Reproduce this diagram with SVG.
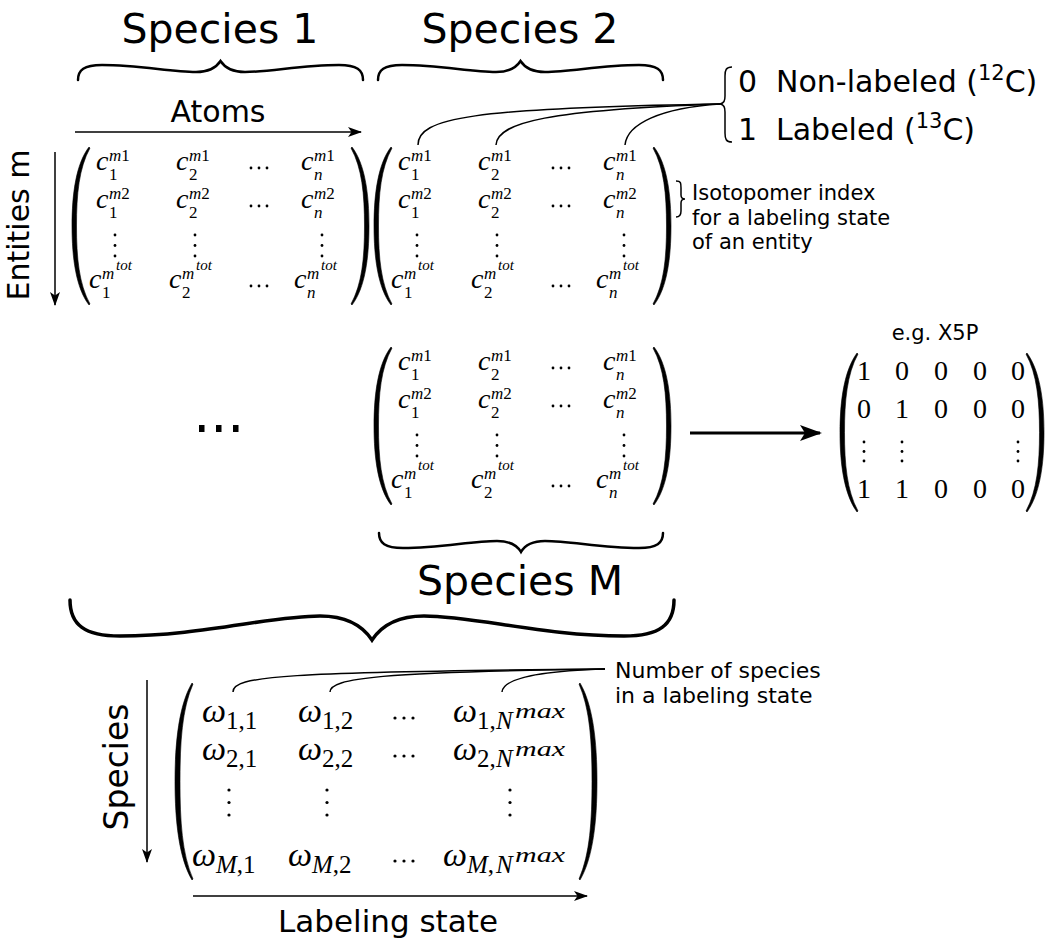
<svg xmlns="http://www.w3.org/2000/svg" width="1053" height="941" viewBox="0 0 1053 941">
<style>
.t{font-family:"DejaVu Sans","Liberation Sans",sans-serif;fill:#000}
.mx{font-family:"Liberation Serif","Times New Roman",serif;font-size:28px;fill:#000}
.ow{font-family:"Liberation Serif","Times New Roman",serif;font-size:34px;font-style:italic;fill:#000}
.ob{font-family:"Liberation Serif","Times New Roman",serif;font-size:25px;fill:#000}
.i{font-style:italic}
.s{font-size:17px}
.ss{font-size:15px}
.oss{font-size:20px}
.ln{fill:none;stroke:#000;stroke-width:1.5}
.br{fill:none;stroke:#000;stroke-width:2.5;stroke-linecap:round}
.pa{fill:#000;stroke:#000;stroke-width:0.6}
.dt{fill:#000}
</style>
<defs>
<marker id="ah" markerUnits="userSpaceOnUse" markerWidth="14" markerHeight="10" refX="13" refY="5" orient="auto">
<path d="M0,0 L14,5 L0,10 L3.5,5 Z" fill="#000"/>
</marker>
<marker id="ahb" markerUnits="userSpaceOnUse" markerWidth="22" markerHeight="16" refX="20" refY="8" orient="auto">
<path d="M0,0 L22,8 L0,16 L5,8 Z" fill="#000"/>
</marker>
</defs>

<!-- titles and braces -->
<g id="species1">
<text class="t" x="220" y="43" font-size="41" text-anchor="middle">Species 1</text>
<path class="br" d="M78,80 C78,70 84,65 102,65 C140,65 170,72 196,72 C209,72 216,68 220.5,61 C225,68 232,72 245,72 C271,72 301,65 339,65 C357,65 363,70 363,80"/>
</g>
<g id="species2">
<text class="t" x="520" y="43" font-size="41" text-anchor="middle">Species 2</text>
<path class="br" d="M378,80 C378,70 384,65 402,65 C440,65 470,72 496,72 C509,72 516,68 520.5,61 C525,68 532,72 545,72 C571,72 601,65 639,65 C657,65 663,70 663,80"/>
</g>
<g id="atoms">
<text class="t" x="218" y="122" font-size="30" text-anchor="middle">Atoms</text>
</g>
<g id="entities">
<text class="t" transform="translate(29,225) rotate(-90)" font-size="30" text-anchor="middle">Entities m</text>
</g>

<!-- legend -->
<g id="legend">
<path class="ln" d="M732,67 C726,67 725,70 725,76 L725,96 C725,101 724,103 720,104 C724,105 725,107 725,112 L725,133 C725,139 726,142 732,142"/>
<text class="t" x="738" y="92" font-size="30">0</text>
<text class="t" x="776" y="92" font-size="30">Non-labeled (<tspan font-size="21" dy="-12">12</tspan><tspan dy="12">C)</tspan></text>
<text class="t" x="738" y="140" font-size="30">1</text>
<text class="t" x="776" y="140" font-size="30">Labeled (<tspan font-size="21" dy="-12">13</tspan><tspan dy="12">C)</tspan></text>
</g>

<!-- c-matrix 1 -->
<g id="matrix1">
<path class="pa" d="M89,147 C76,164 72,194 72,226 C72,258 76,288 89,305 L90,304 C79,284 76.5,258 76.5,226 C76.5,194 79,168 90,148 Z"/>
<path class="pa" d="M352,147 C365,164 369,194 369,226 C369,258 365,288 352,305 L351,304 C362,284 364.5,258 364.5,226 C364.5,194 362,168 351,148 Z"/>
<text class="mx"><tspan class="i" x="96" y="170">c</tspan><tspan class="s i" x="109" y="161">m</tspan><tspan class="s">1</tspan><tspan class="s" x="109" y="180">1</tspan></text>
<text class="mx"><tspan class="i" x="176" y="170">c</tspan><tspan class="s i" x="189" y="161">m</tspan><tspan class="s">1</tspan><tspan class="s" x="189" y="180">2</tspan></text>
<text class="mx"><tspan class="i" x="301" y="170">c</tspan><tspan class="s i" x="314" y="161">m</tspan><tspan class="s">1</tspan><tspan class="s i" x="314" y="180">n</tspan></text>
<text class="mx"><tspan class="i" x="96" y="208">c</tspan><tspan class="s i" x="109" y="199">m</tspan><tspan class="s">2</tspan><tspan class="s" x="109" y="218">1</tspan></text>
<text class="mx"><tspan class="i" x="176" y="208">c</tspan><tspan class="s i" x="189" y="199">m</tspan><tspan class="s">2</tspan><tspan class="s" x="189" y="218">2</tspan></text>
<text class="mx"><tspan class="i" x="301" y="208">c</tspan><tspan class="s i" x="314" y="199">m</tspan><tspan class="s">2</tspan><tspan class="s i" x="314" y="218">n</tspan></text>
<text class="mx"><tspan class="i" x="89" y="288">c</tspan><tspan class="s i" x="102" y="279">m</tspan><tspan class="ss i" x="116" y="270">tot</tspan><tspan class="s" x="102" y="298">1</tspan></text>
<text class="mx"><tspan class="i" x="169" y="288">c</tspan><tspan class="s i" x="182" y="279">m</tspan><tspan class="ss i" x="196" y="270">tot</tspan><tspan class="s" x="182" y="298">2</tspan></text>
<text class="mx"><tspan class="i" x="294" y="288">c</tspan><tspan class="s i" x="307" y="279">m</tspan><tspan class="ss i" x="321" y="270">tot</tspan><tspan class="s i" x="307" y="298">n</tspan></text>
<g class="dt">
<circle cx="251" cy="168" r="1.4"/><circle cx="259" cy="168" r="1.4"/><circle cx="267" cy="168" r="1.4"/>
<circle cx="251" cy="206" r="1.4"/><circle cx="259" cy="206" r="1.4"/><circle cx="267" cy="206" r="1.4"/>
<circle cx="251" cy="286" r="1.4"/><circle cx="259" cy="286" r="1.4"/><circle cx="267" cy="286" r="1.4"/>
<circle cx="115" cy="235" r="1.4"/><circle cx="115" cy="245.5" r="1.4"/><circle cx="115" cy="256" r="1.4"/>
<circle cx="195" cy="235" r="1.4"/><circle cx="195" cy="245.5" r="1.4"/><circle cx="195" cy="256" r="1.4"/>
<circle cx="322" cy="235" r="1.4"/><circle cx="322" cy="245.5" r="1.4"/><circle cx="322" cy="256" r="1.4"/>
</g>
</g>

<!-- c-matrix 2 -->
<g id="matrix2" transform="translate(302,0)">
<path class="pa" d="M89,147 C76,164 72,194 72,226 C72,258 76,288 89,305 L90,304 C79,284 76.5,258 76.5,226 C76.5,194 79,168 90,148 Z"/>
<path class="pa" d="M352,147 C365,164 369,194 369,226 C369,258 365,288 352,305 L351,304 C362,284 364.5,258 364.5,226 C364.5,194 362,168 351,148 Z"/>
<text class="mx"><tspan class="i" x="96" y="170">c</tspan><tspan class="s i" x="109" y="161">m</tspan><tspan class="s">1</tspan><tspan class="s" x="109" y="180">1</tspan></text>
<text class="mx"><tspan class="i" x="176" y="170">c</tspan><tspan class="s i" x="189" y="161">m</tspan><tspan class="s">1</tspan><tspan class="s" x="189" y="180">2</tspan></text>
<text class="mx"><tspan class="i" x="301" y="170">c</tspan><tspan class="s i" x="314" y="161">m</tspan><tspan class="s">1</tspan><tspan class="s i" x="314" y="180">n</tspan></text>
<text class="mx"><tspan class="i" x="96" y="208">c</tspan><tspan class="s i" x="109" y="199">m</tspan><tspan class="s">2</tspan><tspan class="s" x="109" y="218">1</tspan></text>
<text class="mx"><tspan class="i" x="176" y="208">c</tspan><tspan class="s i" x="189" y="199">m</tspan><tspan class="s">2</tspan><tspan class="s" x="189" y="218">2</tspan></text>
<text class="mx"><tspan class="i" x="301" y="208">c</tspan><tspan class="s i" x="314" y="199">m</tspan><tspan class="s">2</tspan><tspan class="s i" x="314" y="218">n</tspan></text>
<text class="mx"><tspan class="i" x="89" y="288">c</tspan><tspan class="s i" x="102" y="279">m</tspan><tspan class="ss i" x="116" y="270">tot</tspan><tspan class="s" x="102" y="298">1</tspan></text>
<text class="mx"><tspan class="i" x="169" y="288">c</tspan><tspan class="s i" x="182" y="279">m</tspan><tspan class="ss i" x="196" y="270">tot</tspan><tspan class="s" x="182" y="298">2</tspan></text>
<text class="mx"><tspan class="i" x="294" y="288">c</tspan><tspan class="s i" x="307" y="279">m</tspan><tspan class="ss i" x="321" y="270">tot</tspan><tspan class="s i" x="307" y="298">n</tspan></text>
<g class="dt">
<circle cx="251" cy="168" r="1.4"/><circle cx="259" cy="168" r="1.4"/><circle cx="267" cy="168" r="1.4"/>
<circle cx="251" cy="206" r="1.4"/><circle cx="259" cy="206" r="1.4"/><circle cx="267" cy="206" r="1.4"/>
<circle cx="251" cy="286" r="1.4"/><circle cx="259" cy="286" r="1.4"/><circle cx="267" cy="286" r="1.4"/>
<circle cx="115" cy="235" r="1.4"/><circle cx="115" cy="245.5" r="1.4"/><circle cx="115" cy="256" r="1.4"/>
<circle cx="195" cy="235" r="1.4"/><circle cx="195" cy="245.5" r="1.4"/><circle cx="195" cy="256" r="1.4"/>
<circle cx="322" cy="235" r="1.4"/><circle cx="322" cy="245.5" r="1.4"/><circle cx="322" cy="256" r="1.4"/>
</g>
</g>

<g id="isotopomer">
<path class="ln" d="M676,181 C681,181 681,183 681,188 L681,195 C681,198 682,199 685,199 C682,199 681,200 681,203 L681,211 C681,215 680,217 676,217"/>
<text class="t" font-size="21"><tspan x="692" y="200">Isotopomer index</tspan><tspan x="692" y="225">for a labeling state</tspan><tspan x="692" y="249">of an entity</tspan></text>
</g>

<g id="ellipsis">
<rect x="199" y="425" width="5.5" height="7"/><rect x="216" y="425" width="5.5" height="7"/><rect x="233" y="425" width="5.5" height="7"/>
</g>

<!-- c-matrix M -->
<g id="matrixM" transform="translate(302,200)">
<path class="pa" d="M89,147 C76,164 72,194 72,226 C72,258 76,288 89,305 L90,304 C79,284 76.5,258 76.5,226 C76.5,194 79,168 90,148 Z"/>
<path class="pa" d="M352,147 C365,164 369,194 369,226 C369,258 365,288 352,305 L351,304 C362,284 364.5,258 364.5,226 C364.5,194 362,168 351,148 Z"/>
<text class="mx"><tspan class="i" x="96" y="170">c</tspan><tspan class="s i" x="109" y="161">m</tspan><tspan class="s">1</tspan><tspan class="s" x="109" y="180">1</tspan></text>
<text class="mx"><tspan class="i" x="176" y="170">c</tspan><tspan class="s i" x="189" y="161">m</tspan><tspan class="s">1</tspan><tspan class="s" x="189" y="180">2</tspan></text>
<text class="mx"><tspan class="i" x="301" y="170">c</tspan><tspan class="s i" x="314" y="161">m</tspan><tspan class="s">1</tspan><tspan class="s i" x="314" y="180">n</tspan></text>
<text class="mx"><tspan class="i" x="96" y="208">c</tspan><tspan class="s i" x="109" y="199">m</tspan><tspan class="s">2</tspan><tspan class="s" x="109" y="218">1</tspan></text>
<text class="mx"><tspan class="i" x="176" y="208">c</tspan><tspan class="s i" x="189" y="199">m</tspan><tspan class="s">2</tspan><tspan class="s" x="189" y="218">2</tspan></text>
<text class="mx"><tspan class="i" x="301" y="208">c</tspan><tspan class="s i" x="314" y="199">m</tspan><tspan class="s">2</tspan><tspan class="s i" x="314" y="218">n</tspan></text>
<text class="mx"><tspan class="i" x="89" y="288">c</tspan><tspan class="s i" x="102" y="279">m</tspan><tspan class="ss i" x="116" y="270">tot</tspan><tspan class="s" x="102" y="298">1</tspan></text>
<text class="mx"><tspan class="i" x="169" y="288">c</tspan><tspan class="s i" x="182" y="279">m</tspan><tspan class="ss i" x="196" y="270">tot</tspan><tspan class="s" x="182" y="298">2</tspan></text>
<text class="mx"><tspan class="i" x="294" y="288">c</tspan><tspan class="s i" x="307" y="279">m</tspan><tspan class="ss i" x="321" y="270">tot</tspan><tspan class="s i" x="307" y="298">n</tspan></text>
<g class="dt">
<circle cx="251" cy="168" r="1.4"/><circle cx="259" cy="168" r="1.4"/><circle cx="267" cy="168" r="1.4"/>
<circle cx="251" cy="206" r="1.4"/><circle cx="259" cy="206" r="1.4"/><circle cx="267" cy="206" r="1.4"/>
<circle cx="251" cy="286" r="1.4"/><circle cx="259" cy="286" r="1.4"/><circle cx="267" cy="286" r="1.4"/>
<circle cx="115" cy="235" r="1.4"/><circle cx="115" cy="245.5" r="1.4"/><circle cx="115" cy="256" r="1.4"/>
<circle cx="195" cy="235" r="1.4"/><circle cx="195" cy="245.5" r="1.4"/><circle cx="195" cy="256" r="1.4"/>
<circle cx="322" cy="235" r="1.4"/><circle cx="322" cy="245.5" r="1.4"/><circle cx="322" cy="256" r="1.4"/>
</g>
</g>

<!-- example matrix -->
<g id="x5p">
<text class="t" x="935" y="340" font-size="21" text-anchor="middle">e.g. X5P</text>
<path class="pa" d="M857,353 C844,371 840,401 840,432.5 C840,464 844,494 857,512 L858,511 C847,491 844.5,464 844.5,432.5 C844.5,401 847,374 858,354 Z"/>
<path class="pa" d="M1027,353 C1040,371 1044,401 1044,432.5 C1044,464 1040,494 1027,512 L1026,511 C1037,491 1039.5,464 1039.5,432.5 C1039.5,401 1037,374 1026,354 Z"/>
<g class="mx" font-size="28" text-anchor="middle">
<text x="864" y="380">1</text><text x="902" y="380">0</text><text x="941" y="380">0</text><text x="980" y="380">0</text><text x="1018" y="380">0</text>
<text x="864" y="418">0</text><text x="902" y="418">1</text><text x="941" y="418">0</text><text x="980" y="418">0</text><text x="1018" y="418">0</text>
<text x="864" y="498">1</text><text x="902" y="498">1</text><text x="941" y="498">0</text><text x="980" y="498">0</text><text x="1018" y="498">0</text>
</g>
<g class="dt">
<circle cx="864" cy="442" r="1.4"/><circle cx="864" cy="451.5" r="1.4"/><circle cx="864" cy="461" r="1.4"/>
<circle cx="902" cy="442" r="1.4"/><circle cx="902" cy="451.5" r="1.4"/><circle cx="902" cy="461" r="1.4"/>
<circle cx="1018" cy="442" r="1.4"/><circle cx="1018" cy="451.5" r="1.4"/><circle cx="1018" cy="461" r="1.4"/>
</g>
</g>

<g id="speciesM">
<path class="br" d="M379,533 C379,543 385,548 403,548 C441,548 471,541 497,541 C510,541 517,545 521,552 C525,545 532,541 545,541 C571,541 601,548 639,548 C657,548 663,543 663,533"/>
<text class="t" x="520" y="595" font-size="41" text-anchor="middle">Species M</text>
</g>
<g id="allspecies">
<path class="br" style="stroke-width:3.5" d="M70,600 C70,625 85,636 120,636 C200,636 270,616 320,616 C345,616 362,625 372,640 C382,625 399,616 424,616 C474,616 544,636 624,636 C659,636 674,625 674,600"/>
</g>

<!-- omega matrix -->
<g id="omega">
<path class="pa" d="M192,683 C179,705 175,742 175,781.5 C175,821 179,858 192,880 L193,879 C182,854 180,821 180,781.5 C180,742 182,709 193,684 Z"/>
<path class="pa" d="M580,683 C593,705 597,742 597,781.5 C597,821 593,858 580,880 L579,879 C590,854 592,821 592,781.5 C592,742 590,709 579,684 Z"/>
<text class="ow" x="202" y="722">ω</text><text class="ob" x="226" y="729">1,1</text>
<text class="ow" x="298" y="722">ω</text><text class="ob" x="322" y="729">1,2</text>
<text class="ow" x="453" y="722">ω</text><text class="ob"><tspan x="477" y="729">1,</tspan><tspan class="i" x="496" y="729">N</tspan><tspan class="oss i" x="515" y="718" textLength="50" lengthAdjust="spacingAndGlyphs">max</tspan></text>
<text class="ow" x="202" y="760">ω</text><text class="ob" x="226" y="767">2,1</text>
<text class="ow" x="298" y="760">ω</text><text class="ob" x="322" y="767">2,2</text>
<text class="ow" x="453" y="760">ω</text><text class="ob"><tspan x="477" y="767">2,</tspan><tspan class="i" x="496" y="767">N</tspan><tspan class="oss i" x="515" y="756" textLength="50" lengthAdjust="spacingAndGlyphs">max</tspan></text>
<text class="ow" x="192" y="866">ω</text><text class="ob"><tspan class="i" x="216" y="873">M</tspan><tspan>,1</tspan></text>
<text class="ow" x="288" y="866">ω</text><text class="ob"><tspan class="i" x="312" y="873">M</tspan><tspan>,2</tspan></text>
<text class="ow" x="443" y="866">ω</text><text class="ob"><tspan class="i" x="467" y="873">M</tspan><tspan>,</tspan><tspan class="i" x="496" y="873">N</tspan><tspan class="oss i" x="515" y="862" textLength="50" lengthAdjust="spacingAndGlyphs">max</tspan></text>
<g class="dt">
<circle cx="395" cy="718" r="1.6"/><circle cx="404" cy="718" r="1.6"/><circle cx="413" cy="718" r="1.6"/>
<circle cx="395" cy="756" r="1.6"/><circle cx="404" cy="756" r="1.6"/><circle cx="413" cy="756" r="1.6"/>
<circle cx="395" cy="861" r="1.6"/><circle cx="404" cy="861" r="1.6"/><circle cx="413" cy="861" r="1.6"/>
<circle cx="229" cy="790" r="1.6"/><circle cx="229" cy="802.5" r="1.6"/><circle cx="229" cy="815" r="1.6"/>
<circle cx="327" cy="790" r="1.6"/><circle cx="327" cy="802.5" r="1.6"/><circle cx="327" cy="815" r="1.6"/>
<circle cx="510" cy="790" r="1.6"/><circle cx="510" cy="802.5" r="1.6"/><circle cx="510" cy="815" r="1.6"/>
</g>
</g>
<g id="numspecies">
<text class="t" font-size="22"><tspan x="615" y="678">Number of species</tspan><tspan x="615" y="703">in a labeling state</tspan></text>
</g>
<g id="speciesaxis">
<text class="t" transform="translate(128,767) rotate(-90)" font-size="33" text-anchor="middle">Species</text>
</g>
<g id="labelingstate">
<text class="t" x="388" y="932" font-size="31" text-anchor="middle">Labeling state</text>
</g>

<!-- connectors -->
<g id="connectors">
<path class="ln" d="M75,132 L361,132" marker-end="url(#ah)"/>
<path class="ln" d="M55,152 L55,305" marker-end="url(#ah)"/>
<path class="ln" d="M418,145 C418,118 470,108 720,104"/>
<path class="ln" d="M496,145 C497,122 550,110 720,104"/>
<path class="ln" d="M625,145 C627,124 660,108 720,104"/>
<path class="ln" style="stroke-width:3" d="M690,433 L820,433" marker-end="url(#ahb)"/>
<path class="ln" d="M233,692 C233,676 280,672 605,669"/>
<path class="ln" d="M330,692 C330,678 380,672 605,669"/>
<path class="ln" d="M502,692 C503,678 540,671 605,669"/>
<path class="ln" d="M147,680 L147,862" marker-end="url(#ah)"/>
<path class="ln" d="M193,896 L587,896" marker-end="url(#ah)"/>
</g>
</svg>
